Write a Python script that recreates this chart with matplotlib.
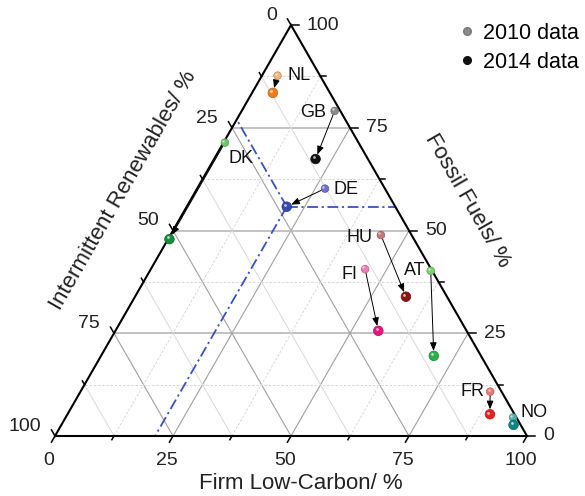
import numpy as np
import matplotlib
matplotlib.use('Agg')
import matplotlib.pyplot as plt
from matplotlib.lines import Line2D
from matplotlib.transforms import ScaledTranslation

plt.rcParams['font.family'] = ['Liberation Sans', 'DejaVu Sans']

# shares in % ; intermittent renewables = 100 - firm - fossil
countries = ['NL', 'GB', 'DE', 'DK', 'HU', 'FI', 'AT', 'FR', 'NO']
firm_2010 = [3.3, 19.7, 27.1, 0.3, 44.6, 45.4, 59.5, 86.8, 94.8]
fossil_2010 = [87.7, 79.1, 60.2, 71.4, 48.9, 40.6, 40.2, 10.8, 4.5]
firm_2014 = [4.4, 21.5, 21.2, 0.3, 57.4, 55.7, 70.5, 89.5, 95.8]
fossil_2014 = [83.5, 67.4, 55.8, 47.9, 33.9, 25.6, 19.5, 5.3, 2.7]
colors_2010 = ['#f8b575', '#8a8a8a', '#6f73d0', '#6cc46c', '#c47878',
               '#f07cb4', '#7cd070', '#f07878', '#55b0b0']
colors_2014 = ['#f07d1a', '#111111', '#3548b0', '#168c3c', '#8a1414',
               '#e8157f', '#2cb14a', '#e82222', '#118484']
# label offsets in pixels (dx, dy up) relative to 2010 point
label_offsets = {'NL': (10, 0, 'left'), 'GB': (-9, -2, 'right'), 'DE': (9, -1, 'left'),
                 'DK': (4, -16, 'left'), 'HU': (-8, -2, 'right'), 'FI': (-8, -5, 'right'),
                 'AT': (-5, 0, 'right'), 'FR': (-6, 0, 'right'), 'NO': (7, 5, 'left')}
ticks = [0, 25, 50, 75, 100]
minor = [12.5, 37.5, 62.5, 87.5]
ref_country = 'DE'

SQ = np.sqrt(3) / 2


def tern(f, s):
    f = np.asarray(f, float)
    s = np.asarray(s, float)
    return f + s / 2, s * SQ


fig = plt.figure(figsize=(5.85, 4.96), dpi=100)
ax = fig.add_axes([0, 0, 1, 1])
ax.set_xlim(-55 / 4.72, 530 / 4.72)
ax.set_ylim(-60 / 4.745, 436 / 4.745)
ax.axis('off')

# grid
for v in ticks[1:-1] + minor:
    major = v in ticks
    # constant firm
    x, y = tern([v, v], [0, 100 - v])
    ax.plot(x, y, color='#a0a0a0' if major else '#d0d0d0', lw=0.8 if major else 0.6,
            ls='-' if major else (0, (3, 2)), zorder=1)
    # constant fossil
    x, y = tern([0, 100 - v], [v, v])
    ax.plot(x, y, color='#b8b8b8' if major else '#d0d0d0', lw=1.2 if major else 0.6,
            ls='-' if major else (0, (3, 2)), zorder=1)
    # constant renewables
    x, y = tern([0, 100 - v], [100 - v, 0])
    ax.plot(x, y, color='#a0a0a0' if major else '#d8d8d8', lw=0.8 if major else 0.7,
            ls='-', zorder=1)

# frame
x, y = tern([0, 100, 0, 0], [0, 0, 100, 0])
ax.plot(x, y, color='black', lw=1.5, zorder=3, solid_joinstyle='miter')

# ticks
for v in ticks + minor:
    L = 1.5 if v in ticks else 0.9
    px, py = tern(v, 0)
    ax.plot([px, px - 0.5 * L], [py, py - SQ * L], color='black', lw=1.1, zorder=3)
    px, py = tern(0, 100 - v)
    ax.plot([px, px - 0.5 * L], [py, py + SQ * L], color='black', lw=1.1, zorder=3)
    px, py = tern(100 - v, v)
    ax.plot([px, px + L * 1.2], [py, py], color='black', lw=1.1, zorder=3)

for v in ticks:
    px, py = tern(v, 0)
    ax.annotate(str(v), (px, py), xytext=(-4.3, -17.3), textcoords='offset points',
                ha='center', va='center', fontsize=14, color='#222222')
    px, py = tern(0, 100 - v)
    ax.annotate(str(v), (px, py), xytext=(-10, 7), textcoords='offset points',
                ha='right', va='center', fontsize=14, color='#222222')
    px, py = tern(100 - v, v)
    ax.annotate(str(v), (px, py), xytext=(11.5, 0), textcoords='offset points',
                ha='left', va='center', fontsize=14, color='#222222')

# axis titles
ax.text(52.1, -10.1, 'Firm Low-Carbon/ %', ha='center', va='center', fontsize=16, color='#222222')
ax.text(14.5, 51.7, 'Intermittent Renewables/ %', ha='center', va='center', fontsize=16,
        rotation=60, color='#222222')
ax.text(87.3, 49.7, 'Fossil Fuels/ %', ha='center', va='center', fontsize=16,
        rotation=-60, color='#222222')

# reference lines through DE 2014
i = countries.index(ref_country)
rf, rs = firm_2014[i], fossil_2014[i]
rr = 100 - rf - rs
dash = (0, (6, 2, 1.2, 2))
for ff, ss in [([rf, rf], [rs, 0]), ([rf, 100 - rs], [rs, rs]), ([rf, 0], [rs, 100 - rr])]:
    x, y = tern(ff, ss)
    ax.plot(x, y, color='#3a50c0', lw=1.3, ls=dash, zorder=2)

# arrows
x0, y0 = tern(firm_2010, fossil_2010)
x1, y1 = tern(firm_2014, fossil_2014)
for a, b, c, d in zip(x0, y0, x1, y1):
    ax.annotate('', xy=(c, d), xytext=(a, b),
                arrowprops=dict(arrowstyle='-|>,head_length=0.5,head_width=0.2', lw=0.7,
                                color='black', shrinkA=3, shrinkB=3.5, mutation_scale=10),
                zorder=4)


def darker(c, k=0.75):
    r, g, b = matplotlib.colors.to_rgb(c)
    return (r * k, g * k, b * k)


hl = ax.transData + ScaledTranslation(-1.2 / 72, 1.2 / 72, fig.dpi_scale_trans)
ax.scatter(x0, y0, s=30, c=colors_2010, edgecolors=[darker(c) for c in colors_2010],
           linewidths=0.5, zorder=5)
ax.scatter(x0, y0, s=3, c='white', alpha=0.6, lw=0, zorder=6, transform=hl)
ax.scatter(x1, y1, s=48, c=colors_2014, edgecolors=[darker(c) for c in colors_2014],
           linewidths=0.5, zorder=5)
ax.scatter(x1, y1, s=4, c='white', alpha=0.7, lw=0, zorder=6, transform=hl)

for name, a, b in zip(countries, x0, y0):
    dx, dy, ha = label_offsets[name]
    ax.annotate(name, (a, b), xytext=(dx * 0.72, dy * 0.72), textcoords='offset points',
                ha=ha, va='center', fontsize=13, color='#111111', zorder=7)

handles = [Line2D([], [], marker='o', ls='', color='#8a8a8a', ms=5.5, mec='#777777'),
           Line2D([], [], marker='o', ls='', color='#111111', ms=5.5)]
ax.legend(handles, ['2010 data', '2014 data'], loc='upper right', bbox_to_anchor=(1.015, 0.985),
          frameon=False, fontsize=15.5, handletextpad=0.15, labelspacing=0.38,
          handlelength=1.2, borderaxespad=0.3)

fig.savefig('out.png', dpi=100)
